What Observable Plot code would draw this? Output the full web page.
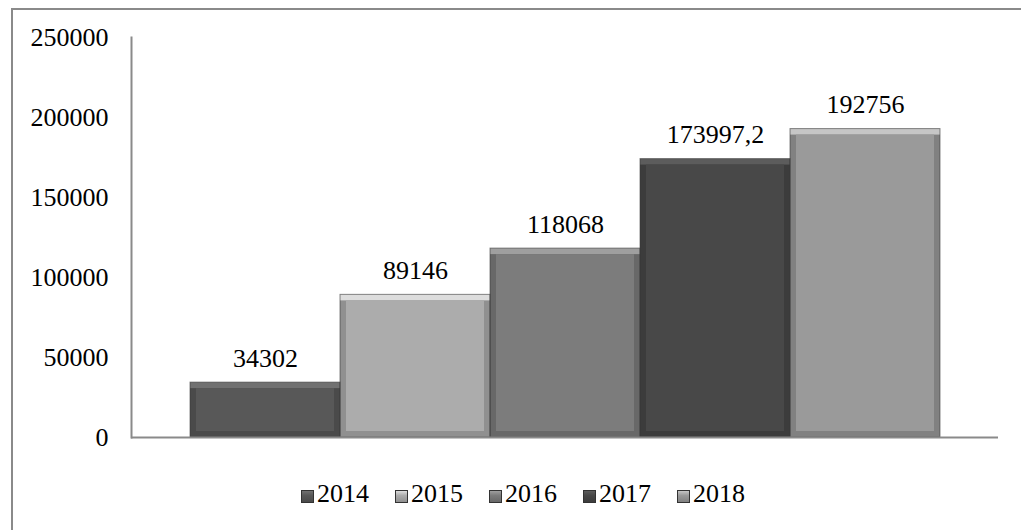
<!DOCTYPE html>
<html>
<head>
<meta charset="utf-8">
<script src="https://cdn.jsdelivr.net/npm/d3@7"></script>
<script src="https://cdn.jsdelivr.net/npm/@observablehq/plot@0.6"></script>
<style>
  html, body { margin: 0; padding: 0; background: #fff; }
  body { width: 1021px; height: 530px; position: relative; overflow: hidden; font-family: "Liberation Serif", "Times New Roman", serif; }
  #frame { position: absolute; left: 11px; top: 8px; width: 1100px; height: 600px; border-top: 2px solid #8a8a8a; border-left: 2px solid #8a8a8a; box-sizing: border-box; }
  #chart { position: absolute; left: 0; top: 0; }
  #legend { position: absolute; left: 301px; top: 481px; display: flex; align-items: center; gap: 26px; font-size: 26px; line-height: 26px; color: #000; }
  .item { display: flex; align-items: center; gap: 3px; }
  .sw { width: 13px; height: 13px; box-sizing: border-box; border: 1px solid #333; margin-top: 4px; }
</style>
</head>
<body>
<div id="frame"></div>
<div id="chart"></div>
<div id="legend"></div>
<script>
const years = ["2014", "2015", "2016", "2017", "2018"];
const values = [34302, 89146, 118068, 173997.2, 192756];
const valueLabels = ["34302", "89146", "118068", "173997,2", "192756"];
const colors = ["#585858", "#acacac", "#7c7c7c", "#484848", "#9a9a9a"];
const yTicks = [0, 50000, 100000, 150000, 200000, 250000];

const data = years.map((y, i) => ({year: y, value: values[i], label: valueLabels[i]}));
const light = colors.map(c => d3.color(c).brighter(0.7).formatHex());
const dark = colors.map(c => d3.color(c).darker(0.5).formatHex());

const plot = Plot.plot({
  width: 1021,
  height: 475,
  marginLeft: 131,
  marginRight: 23,
  marginTop: 37,
  marginBottom: 38,
  style: {fontFamily: "Liberation Serif, Times New Roman, serif", fontSize: "26px", background: "transparent", color: "#000"},
  x: {domain: years, paddingInner: 0, paddingOuter: 0.38, axis: null},
  y: {domain: [0, 250000], axis: null},
  marks: [
    Plot.axisY({ticks: yTicks, tickSize: 0, tickPadding: 23, tickFormat: d => String(d), fontSize: 26, fill: "#000", label: null}),
    Plot.barY(data, {x: "year", y: "value", fill: (d, i) => light[i]}),
    Plot.barY(data, {x: "year", y: "value", fill: (d, i) => dark[i], insetTop: 6}),
    Plot.barY(data, {x: "year", y: "value", fill: (d, i) => colors[i], insetTop: 6, insetLeft: 6, insetRight: 6, insetBottom: 6}),
    Plot.barY(data, {x: "year", y: "value", fill: "none", stroke: "#3a3a3a", strokeOpacity: 0.6, strokeWidth: 1}),
    Plot.ruleY([0], {stroke: "#8a8a8a", strokeWidth: 2}),
    Plot.frame({anchor: "left", stroke: "#8a8a8a", strokeWidth: 2}),
    Plot.text(data, {x: "year", y: "value", text: "label", dy: -16, lineAnchor: "bottom", fontSize: 26, fill: "#000"})
  ]
});
document.getElementById("chart").appendChild(plot);

const legend = d3.select("#legend");
years.forEach((y, i) => {
  const it = legend.append("div").attr("class", "item");
  it.append("div").attr("class", "sw").style("background", `linear-gradient(${light[i]}, ${colors[i]} 40%, ${dark[i]})`);
  it.append("span").text(y);
});
</script>
</body>
</html>
